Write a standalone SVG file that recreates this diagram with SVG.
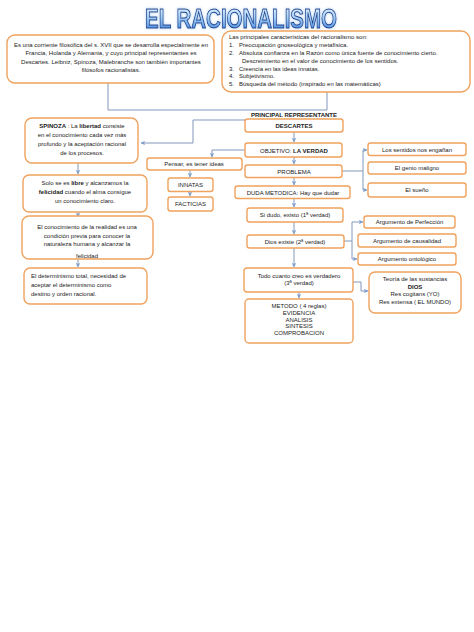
<svg xmlns="http://www.w3.org/2000/svg" width="474" height="632" viewBox="0 0 474 632">
<defs>
<linearGradient id="tg" x1="0" y1="0" x2="0" y2="1">
<stop offset="0" stop-color="#f4faff"/>
<stop offset="0.45" stop-color="#a9d2f5"/>
<stop offset="1" stop-color="#2f78d6"/>
</linearGradient>
<filter id="glow" x="-10%" y="-30%" width="120%" height="160%">
<feGaussianBlur in="SourceAlpha" stdDeviation="1.5" result="b"/>
<feFlood flood-color="#9cc4ee" flood-opacity="0.8"/>
<feComposite in2="b" operator="in" result="g"/>
<feMerge><feMergeNode in="g"/><feMergeNode in="SourceGraphic"/></feMerge>
</filter>
<marker id="ar" viewBox="0 0 6 6" refX="5.5" refY="3" markerWidth="4.5" markerHeight="4.5" markerUnits="userSpaceOnUse" orient="auto">
<path d="M0,0 L6,3 L0,6 L1.5,3 Z" fill="#7f9fcf"/>
</marker>
<clipPath id="c3"><rect x="22" y="216" width="131" height="42.3"/></clipPath>
</defs>
<style>
.b{fill:#fff;stroke:#f0a25e;stroke-width:1.4}
.t{font-family:"Liberation Sans",Arial,sans-serif;font-size:6px;fill:#222}
.m{text-anchor:middle}
.bd{font-weight:bold}
.c{fill:none;stroke:#8198bb;stroke-width:1}
.a{marker-end:url(#ar)}
</style>
<rect width="474" height="632" fill="#fff"/>
<text x="145" y="28" font-family="'Liberation Sans',Arial,sans-serif" font-weight="bold" font-size="28" textLength="192" lengthAdjust="spacingAndGlyphs" fill="url(#tg)" stroke="#1c3f8e" stroke-width="1" filter="url(#glow)">EL RACIONALISMO</text>

<g id="connectors">
<path class="c" d="M108,83 V110 H327 V92"/>
<path class="c a" d="M245,120 H193 V143 H141"/>
<path class="c a" d="M294,132 V142"/>
<path class="c a" d="M294,157 V164"/>
<path class="c a" d="M294,177 V185"/>
<path class="c a" d="M294,198 V207"/>
<path class="c a" d="M294,222 V234"/>
<path class="c a" d="M294,248 V267"/>
<path class="c a" d="M299,292 V298"/>
<path class="c a" d="M245,150 H212 V157"/>
<path class="c a" d="M190,170 V177"/>
<path class="c a" d="M190,192 V196"/>
<path class="c a" d="M342,171 H363 V150 H367"/>
<path class="c a" d="M363,171 V190 H367"/>
<path class="c" d="M344,241 H352"/>
<path class="c a" d="M352,241 V222 H363"/>
<path class="c a" d="M352,241 V259 H357"/>
<path class="c a" d="M353,282 H361 V291 H368"/>
<path class="c a" d="M78,163 V174"/>
<path class="c a" d="M78,212 V217"/>
<path class="c a" d="M78,259 V267"/>
</g>

<g id="intro">
<rect class="b" x="7" y="35" width="207" height="48" rx="8"/>
<text class="t m" font-size="5.6" x="111" y="47">Es una corriente filosófica del s. XVII que se desarrolla especialmente en</text>
<text class="t m" font-size="5.6" x="111" y="55.3">Francia, Holanda y Alemania, y cuyo principal representantes es</text>
<text class="t m" font-size="5.6" x="111" y="63.6">Descartes. Leibniz, Spinoza, Malebranche son también importantes</text>
<text class="t m" font-size="5.6" x="111" y="71.5">filósofos racionalistas.</text>
</g>

<g id="caracteristicas">
<rect class="b" x="222" y="31" width="248" height="61" rx="9"/>
<text class="t" font-size="6.2" x="229" y="39">Las principales características del racionalismo son:</text>
<text class="t" font-size="6.2" x="229" y="47">1.</text><text class="t" font-size="6.2" x="239" y="47">Preocupación gnoseológica y metafísica.</text>
<text class="t" font-size="6.2" x="229" y="55">2.</text><text class="t" font-size="6.2" x="239" y="55">Absoluta confianza en la Razón como única fuente de  conocimiento cierto.</text>
<text class="t" font-size="6.2" x="242" y="62.5">Descreimiento en el valor de conocimiento de los sentidos.</text>
<text class="t" font-size="6.2" x="229" y="70.5">3.</text><text class="t" font-size="6.2" x="239" y="70.5">Creencia en las ideas innatas.</text>
<text class="t" font-size="6.2" x="229" y="78">4.</text><text class="t" font-size="6.2" x="239" y="78">Subjetivismo.</text>
<text class="t" font-size="6.2" x="229" y="85.5">5.</text><text class="t" font-size="6.2" x="239" y="85.5">Búsqueda del método (inspirado en las matemáticas)</text>
</g>

<text class="t m bd" font-size="5.4" x="294" y="117">PRINCIPAL REPRESENTANTE</text>

<g id="descartes">
<rect class="b" x="245" y="119" width="98" height="13" rx="2.5"/>
<text class="t m bd" x="294" y="128">DESCARTES</text>
</g>
<g id="objetivo">
<rect class="b" x="245" y="143" width="97" height="14" rx="2.5"/>
<text class="t m" x="294" y="152.5">OBJETIVO: <tspan class="bd">LA VERDAD</tspan></text>
</g>
<g id="problema">
<rect class="b" x="245" y="165" width="97" height="12.5" rx="2.5"/>
<text class="t m" x="294" y="173.5">PROBLEMA</text>
</g>
<g id="duda">
<rect class="b" x="235" y="186" width="115" height="12.5" rx="2.5"/>
<text class="t m" x="293" y="194.5">DUDA METODICA: Hay que dudar</text>
</g>
<g id="sidudo">
<rect class="b" x="247" y="208" width="96" height="14" rx="2.5"/>
<text class="t m" x="295" y="217.3">Si dudo, existo (1ª verdad)</text>
</g>
<g id="dios">
<rect class="b" x="247" y="235" width="97" height="13" rx="2.5"/>
<text class="t m" x="295" y="243.8">Dios existe (2ª verdad)</text>
</g>
<g id="todo">
<rect class="b" x="244" y="268" width="109" height="24" rx="3"/>
<text class="t m" x="299" y="277.5">Todo cuanto creo es verdadero</text>
<text class="t m" x="299" y="285">(3ª verdad)</text>
</g>
<g id="metodo">
<rect class="b" x="245" y="299" width="108" height="44" rx="4"/>
<text class="t m" x="299" y="308">METODO ( 4 reglas)</text>
<text class="t m" x="299" y="314.8">EVIDENCIA</text>
<text class="t m" x="299" y="321.6">ANALISIS</text>
<text class="t m" x="299" y="328.4">SINTESIS</text>
<text class="t m" x="299" y="335.2">COMPROBACION</text>
</g>

<g id="pensar">
<rect class="b" x="147" y="158" width="95" height="12" rx="2.5"/>
<text class="t m" x="194" y="166.3">Pensar, es tener ideas</text>
</g>
<g id="innatas">
<rect class="b" x="168" y="178" width="45" height="13.5" rx="2.5"/>
<text class="t m" x="190.5" y="187">INNATAS</text>
</g>
<g id="facticias">
<rect class="b" x="168" y="197" width="45" height="14" rx="2.5"/>
<text class="t m" x="190.5" y="206.3">FACTICIAS</text>
</g>

<g id="sentidos">
<rect class="b" x="368" y="143" width="98" height="12.5" rx="2.5"/>
<text class="t m" x="417" y="151.5">Los sentidos nos engañan</text>
</g>
<g id="genio">
<rect class="b" x="368" y="162" width="98" height="12" rx="2.5"/>
<text class="t m" x="417" y="170.3">El genio maligno</text>
</g>
<g id="sueno">
<rect class="b" x="368" y="183" width="98" height="14" rx="2.5"/>
<text class="t m" x="417" y="192.3">El sueño</text>
</g>

<g id="perfeccion">
<rect class="b" x="364" y="216" width="91" height="12" rx="2.5"/>
<text class="t m" x="409.5" y="224.3">Argumento de Perfección</text>
</g>
<g id="causalidad">
<rect class="b" x="358" y="234" width="98" height="13" rx="2.5"/>
<text class="t m" x="407" y="242.8">Argumento de causalidad</text>
</g>
<g id="ontologico">
<rect class="b" x="358" y="253" width="98" height="12" rx="2.5"/>
<text class="t m" x="407" y="261.3">Argumento ontológico</text>
</g>
<g id="sustancias">
<rect class="b" x="369" y="272" width="92" height="41" rx="6"/>
<text class="t m" x="415" y="281">Teoría de las sustancias</text>
<text class="t m bd" x="415" y="288.5">DIOS</text>
<text class="t m" x="415" y="296">Res cogitans (YO)</text>
<text class="t m" x="415" y="303.5">Res extensa ( EL MUNDO)</text>
</g>

<g id="spinoza">
<rect class="b" x="25" y="118" width="113" height="45" rx="7"/>
<text class="t m" font-size="6.4" x="82" y="128"><tspan class="bd">SPINOZA</tspan> : La <tspan class="bd">libertad</tspan> consiste</text>
<text class="t m" font-size="6.4" x="82" y="137">en el conocimiento cada vez más</text>
<text class="t m" font-size="6.4" x="82" y="146">profundo y la aceptación racional</text>
<text class="t m" font-size="6.4" x="82" y="154.5">de los procesos.</text>
</g>
<g id="libre">
<rect class="b" x="23" y="175" width="124" height="37" rx="6"/>
<text class="t m" font-size="6.4" x="85" y="185">Solo se es <tspan class="bd">libre</tspan> y alcanzamos la</text>
<text class="t m" font-size="6.4" x="85" y="194"><tspan class="bd">felicidad</tspan> cuando el alma consigue</text>
<text class="t m" font-size="6.4" x="85" y="202.5">un conocimiento claro.</text>
</g>
<g id="realidad">
<rect class="b" x="22" y="216" width="131" height="43" rx="7"/>
<g clip-path="url(#c3)">
<text class="t m" font-size="6.4" x="87" y="229">El conocimiento de la realidad es una</text>
<text class="t m" font-size="6.4" x="87" y="237.5">condición previa para conocer la</text>
<text class="t m" font-size="6.4" x="87" y="246">naturaleza humana y alcanzar la</text>
<text class="t m" font-size="6.4" x="87" y="257.5">felicidad</text>
</g>
</g>
<g id="determinismo">
<rect class="b" x="24" y="268" width="123" height="36" rx="6"/>
<text class="t" font-size="6.4" x="31" y="278">El determinismo total, necesidad de</text>
<text class="t" font-size="6.4" x="31" y="287">aceptar el determinismo como</text>
<text class="t" font-size="6.4" x="31" y="295.5">destino y orden racional.</text>
</g>
</svg>
